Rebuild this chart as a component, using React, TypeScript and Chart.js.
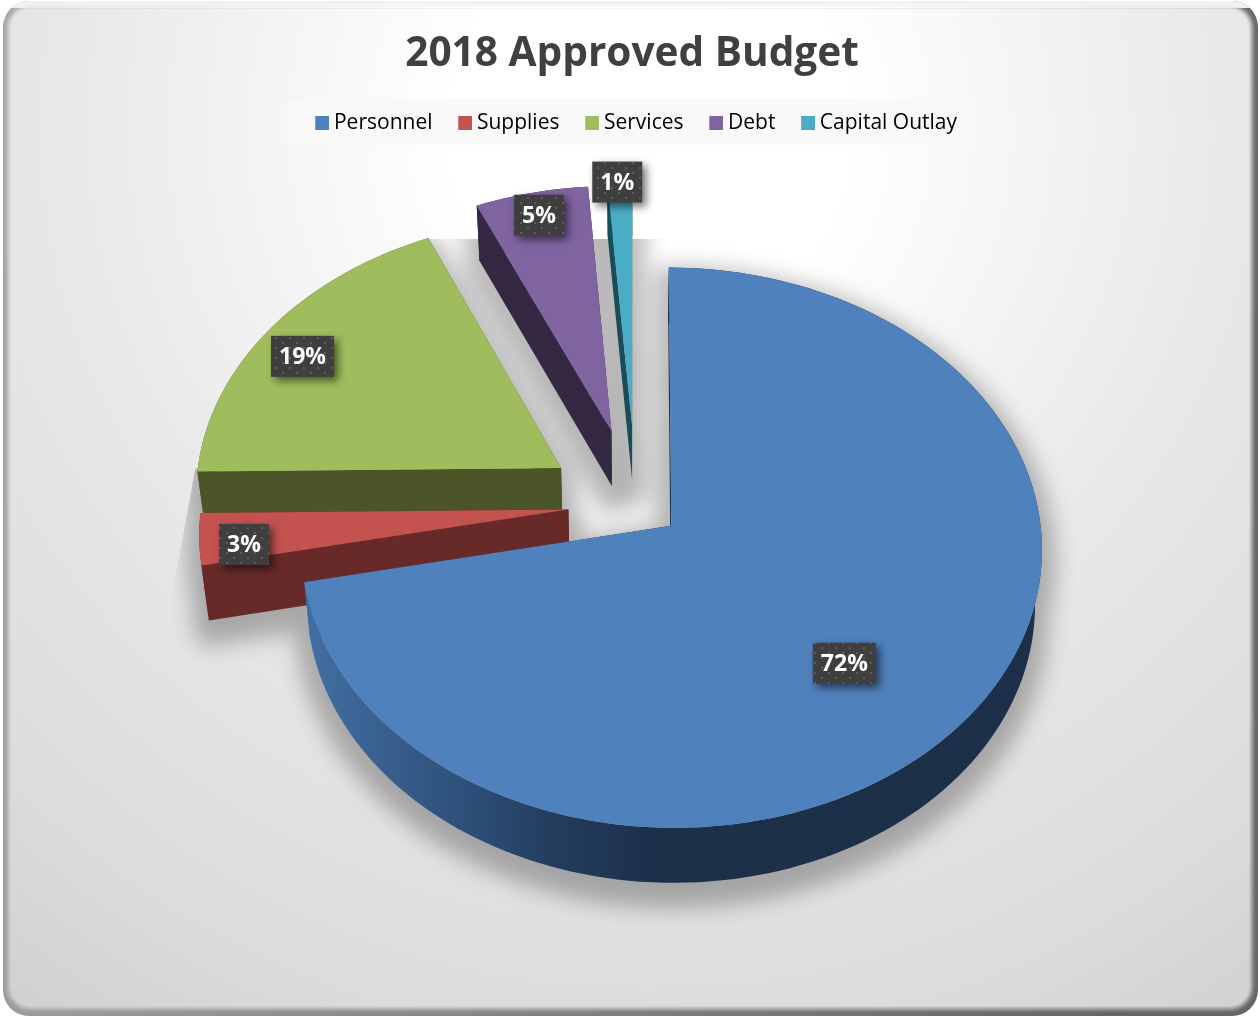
import React, { useEffect, useRef } from "react";
import { Chart, registerables } from "chart.js";

Chart.register(...registerables);

const TITLE = "2018 Approved Budget";
const categories = ["Personnel", "Supplies", "Services", "Debt", "Capital Outlay"];
const percentages = [71.8, 3, 18.55, 5.45, 1.2];
const topColors = ["#4f81bd", "#c4524f", "#9fbd5d", "#8064a2", "#4bacc6"];
const sideColors = ["#1c304a", "#672a28", "#4b5527", "#342842", "#1a4d5a"];
const blueSideStops: [number, string][] = [[0, "#426fa3"], [0.2, "#2f527d"], [0.33, "#243e60"], [0.47, "#1c304a"], [1, "#1c304a"]];
const explodePercent = [12.35, 18.5, 24.5, 28, 29.5];
const labelRadius = [0.653, 0.881, 0.857, 0.9, 0.995];
const labelAngleFraction = [0.529, 0.31, 0.46, 0.5, 0.4];

const TILT = 275 / 367;
const PERSPECTIVE = 0.078;
const DEPTH = 55;
const BOTTOM_SCALE = 0.983;

type P = [number, number];

function slicePolygons(el: any) {
  const { x: xc, y: yc, startAngle, endAngle, outerRadius: R } = el.getProps(["x", "y", "startAngle", "endAngle", "outerRadius"]);
  const e = (el.options.offset || 0) / 100;
  const mid = (startAngle + endAngle) / 2;
  const ex = e * Math.cos(mid);
  const ez = -e * Math.sin(mid);
  const project = (X: number, Z: number): P => {
    const f = 1 + PERSPECTIVE * Z;
    return [xc + (R * X) / f, yc - (R * TILT * Z) / f];
  };
  const world = (r: number, a: number): P => project(ex + r * Math.cos(a), ez - r * Math.sin(a));
  const top: P[] = [world(0, mid)];
  const steps = Math.max(2, Math.ceil((endAngle - startAngle) / 0.03));
  for (let i = 0; i <= steps; i++) top.push(world(1, startAngle + ((endAngle - startAngle) * i) / steps));
  const bottom: P[] = top.map(([x, y]) => [xc + (x - xc) * BOTTOM_SCALE, y + DEPTH]);
  return { top, bottom, world, startAngle, endAngle };
}

function tracePoly(ctx: CanvasRenderingContext2D, pts: P[]) {
  ctx.beginPath();
  pts.forEach(([x, y], i) => (i ? ctx.lineTo(x, y) : ctx.moveTo(x, y)));
  ctx.closePath();
}

function sideFaces(top: P[], bottom: P[]): P[][] {
  const last = top.length - 1;
  const rim = [...top.slice(1), ...bottom.slice(1).reverse()];
  return [
    [top[0], top[1], bottom[1], bottom[0]],
    [top[0], top[last], bottom[last], bottom[0]],
    rim,
  ];
}

function rr(ctx: CanvasRenderingContext2D, x: number, y: number, w: number, h: number, r: number) {
  ctx.beginPath();
  ctx.roundRect(x, y, w, h, r);
}

const backgroundPlugin = {
  id: "panelBackground",
  afterLayout(chart: any) {
    chart.titleBlock.left -= 4;
    chart.titleBlock.right -= 4;
  },
  beforeDraw(chart: any) {
    const ctx: CanvasRenderingContext2D = chart.ctx;
    ctx.save();
    ctx.fillStyle = "#ffffff";
    ctx.fillRect(0, 0, chart.width, chart.height);
    const edge = ctx.createLinearGradient(0, 0, chart.width, chart.height * 0.3);
    edge.addColorStop(0, "#a8a8a8");
    edge.addColorStop(1, "#666666");
    ctx.fillStyle = edge;
    rr(ctx, 3, 1, chart.width - 5, chart.height - 2, 26);
    ctx.fill();
    ctx.save();
    rr(ctx, 3, 1, chart.width - 5, chart.height - 2, 26);
    ctx.clip();
    ctx.fillStyle = "#f2f2f2";
    ctx.fillRect(0, 0, chart.width, 8);
    ctx.restore();
    const g = ctx.createRadialGradient(650, 130, 200, 650, 130, 1100);
    g.addColorStop(0, "#ffffff");
    g.addColorStop(0.43, "#e8e8e8");
    g.addColorStop(0.6, "#e2e2e2");
    g.addColorStop(0.78, "#dcdcdc");
    g.addColorStop(1, "#cfcfcf");
    ctx.filter = "blur(2px)";
    ctx.fillStyle = g;
    rr(ctx, 8, 6, chart.width - 16, chart.height - 14, 22);
    ctx.fill();
    ctx.filter = "none";
    rr(ctx, 11, 9, chart.width - 22, chart.height - 20, 20);
    ctx.fill();
    const boxes = chart.legend?.legendHitBoxes;
    if (boxes?.length) {
      const first = boxes[0];
      const last = boxes[boxes.length - 1];
      const cy = first.top + first.height / 2;
      ctx.fillStyle = "rgba(248,248,248,0.9)";
      ctx.fillRect(first.left - 28, cy - 24, last.left + last.width + 19 - first.left + 28, 46);
    }
    ctx.restore();
  },
};

const pie3dPlugin = {
  id: "pie3d",
  beforeDatasetDraw(chart: any, args: any) {
    const ctx: CanvasRenderingContext2D = chart.ctx;
    const arcs = args.meta.data as any[];
    const polys = arcs.map(slicePolygons);

    // one common soft shadow, clipped like the source picture
    const off = document.createElement("canvas");
    off.width = chart.width;
    off.height = chart.height;
    const oc = off.getContext("2d")!;
    oc.fillStyle = "#000";
    oc.strokeStyle = "#000";
    oc.lineWidth = 26;
    oc.lineJoin = "round";
    polys.forEach(({ top, bottom }) => {
      [top, bottom, ...sideFaces(top, bottom)].forEach((face) => {
        tracePoly(oc, face);
        oc.fill();
        oc.stroke();
      });
    });
    ctx.save();
    tracePoly(ctx, [[165, 635], [195, 470], [426, 239], [1100, 239], [chart.width, chart.height], [100, chart.height]]);
    ctx.clip();
    ctx.filter = "blur(11px)";
    ctx.globalAlpha = 0.27;
    ctx.drawImage(off, 0, 12);
    ctx.restore();

    for (let s = arcs.length - 1; s >= 0; s--) {
      const { top, bottom } = polys[s];
      let side: string | CanvasGradient = sideColors[s];
      if (s === 0) {
        const xs = top.map((p) => p[0]);
        const g = ctx.createLinearGradient(Math.min(...xs), 0, Math.max(...xs), 0);
        blueSideStops.forEach(([o, c]) => g.addColorStop(o, c));
        side = g;
      }
      ctx.save();
      ctx.fillStyle = side;
      sideFaces(top, bottom).forEach((face) => {
        tracePoly(ctx, face);
        ctx.fill();
      });
      tracePoly(ctx, top);
      ctx.fillStyle = arcs[s].options.backgroundColor;
      ctx.fill();
      ctx.restore();
    }
    return false;
  },
  afterDatasetsDraw(chart: any) {
    const ctx: CanvasRenderingContext2D = chart.ctx;
    const arcs = chart.getDatasetMeta(0).data as any[];
    const tile = document.createElement("canvas");
    tile.width = 14;
    tile.height = 10;
    const tc = tile.getContext("2d")!;
    tc.fillStyle = "#3f3f3f";
    tc.fillRect(0, 0, 14, 10);
    tc.fillStyle = "#5c5c5c";
    tc.fillRect(2, 2, 2, 2);
    tc.fillRect(9, 7, 2, 2);
    const pattern = ctx.createPattern(tile, "repeat")!;
    arcs.forEach((el, i) => {
      const { world, startAngle, endAngle } = slicePolygons(el);
      const [lx, ly] = world(labelRadius[i], startAngle + (endAngle - startAngle) * labelAngleFraction[i]);
      const text = `${Math.round(percentages[i])}%`;
      ctx.save();
      ctx.font = 'bold 23px "Open Sans"';
      const w = Math.round(ctx.measureText(text).width) + 16;
      const h = 41;
      ctx.shadowColor = "rgba(0,0,0,0.55)";
      ctx.shadowBlur = 9;
      ctx.shadowOffsetX = 4;
      ctx.shadowOffsetY = 4;
      ctx.fillStyle = pattern;
      ctx.fillRect(lx - w / 2, ly - h / 2, w, h);
      ctx.shadowColor = "transparent";
      ctx.fillStyle = "#ffffff";
      ctx.textAlign = "center";
      ctx.textBaseline = "middle";
      ctx.fillText(text, lx, ly + 1);
      ctx.restore();
    });
  },
};

function legendSwatch(color: string) {
  const c = document.createElement("canvas");
  c.width = 20;
  c.height = 14;
  const x = c.getContext("2d")!;
  x.fillStyle = color;
  x.fillRect(6, 0, 14, 14);
  return c;
}

export default function App() {
  const ref = useRef<HTMLCanvasElement>(null);
  useEffect(() => {
    document.body.style.margin = "0";
    const chart = new Chart(ref.current!, {
      type: "pie",
      data: {
        labels: categories,
        datasets: [{ data: percentages, backgroundColor: topColors, borderWidth: 0, offset: explodePercent }],
      },
      plugins: [backgroundPlugin, pie3dPlugin],
      options: {
        responsive: false,
        animation: false,
        devicePixelRatio: 1,
        radius: 367,
        layout: { padding: { left: 12, right: 0, top: 0, bottom: 152 } },
        plugins: {
          tooltip: { enabled: false },
          title: {
            display: true,
            text: TITLE,
            color: "#404040",
            font: { family: '"Open Sans"', size: 40.6, weight: "bold", lineHeight: 1.2 },
            padding: { top: 30, bottom: 8 },
          },
          legend: {
            position: "top",
            labels: {
              color: "#595959",
              font: { family: '"Open Sans"', size: 21 },
              padding: 25.5,
              usePointStyle: true,
              pointStyleWidth: 8.5,
              generateLabels: () =>
                categories.map((text, i) => ({
                  text,
                  fillStyle: topColors[i],
                  strokeStyle: topColors[i],
                  lineWidth: 0,
                  hidden: false,
                  index: i,
                  pointStyle: legendSwatch(topColors[i]),
                })),
            },
          },
        },
      },
    } as any);
    return () => chart.destroy();
  }, []);
  return <canvas ref={ref} width={1260} height={1017} style={{ display: "block", width: 1260, height: 1017 }} />;
}
